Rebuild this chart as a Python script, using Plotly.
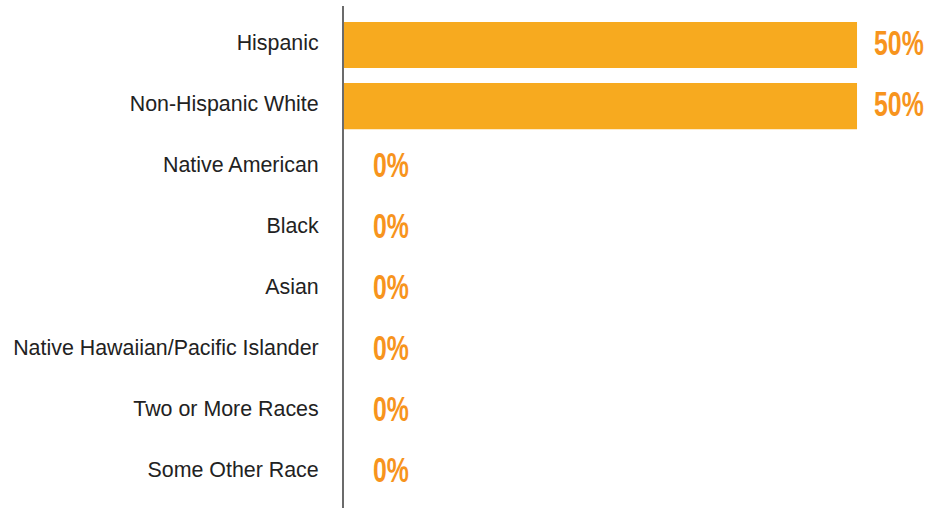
import plotly.graph_objects as go

categories = ["Hispanic", "Non-Hispanic White", "Native American", "Black", "Asian",
              "Native Hawaiian/Pacific Islander", "Two or More Races", "Some Other Race"]
values = [50, 50, 0, 0, 0, 0, 0, 0]
labels = ["50%", "50%", "0%", "0%", "0%", "0%", "0%", "0%"]

bar_color = "#F7AA1F"
text_color = "#F7941D"

fig = go.Figure()
fig.add_trace(go.Bar(
    x=values, y=categories, orientation="h",
    marker=dict(color=bar_color, line=dict(width=0)),
    width=0.755, offset=-0.328, hoverinfo="skip",
))

for cat, v, lab in zip(categories, values, labels):
    fig.add_annotation(
        x=v, y=cat, text=lab, showarrow=False, xanchor="left", yanchor="middle",
        xshift=15 if v > 0 else 27, yshift=0,
        font=dict(family="Liberation Sans, Arial, sans-serif",
                  size=35, color=text_color, weight="bold"),
    )

fig.update_layout(
    width=943, height=508,
    margin=dict(l=344, r=0, t=6, b=0),
    paper_bgcolor="white", plot_bgcolor="white",
    showlegend=False,
    xaxis=dict(range=[0, 58.38], visible=False, fixedrange=True),
    yaxis=dict(
        categoryorder="array", categoryarray=categories,
        range=[7.63, -0.59],
        showline=True, linecolor="#6b6b6b", linewidth=2,
        showgrid=False, zeroline=False, ticks="", ticklen=0,
        tickfont=dict(family="Liberation Sans, Arial, sans-serif", size=21.4, color="#222222"),
        ticklabelstandoff=19, fixedrange=True,
    ),
)

post_script = """
document.body.style.margin = '0';
document.querySelectorAll('text.annotation-text').forEach(function(t){
  var b = t.getBBox();
  var s = 0.71;
  t.setAttribute('transform', 'translate(' + (b.x * (1 - s)) + ',0) scale(' + s + ',1)');
});
"""

fig.write_html("out.html", post_script=post_script, config={"displayModeBar": False})
